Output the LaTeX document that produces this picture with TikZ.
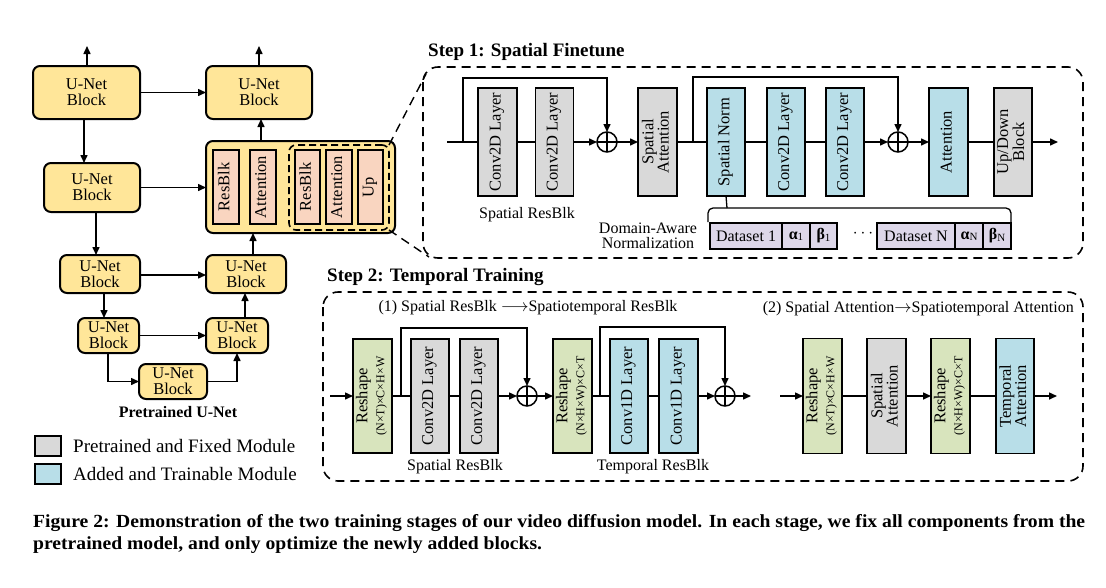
\documentclass[tikz,border=0pt]{standalone}
\usepackage{fontspec}
\setmainfont{Liberation Serif}
\usepackage{graphicx}
\usetikzlibrary{arrows.meta,calc}
\definecolor{cyel}{HTML}{FFE699}
\definecolor{cpnk}{HTML}{F9D5C0}
\definecolor{cgry}{HTML}{D9D9D9}
\definecolor{cblu}{HTML}{B8DEE8}
\definecolor{cgrn}{HTML}{D8E4BD}
\definecolor{clav}{HTML}{DDD7E9}
\newcommand{\rt}[1]{\rotatebox{90}{\begin{tabular}{@{}c@{}}#1\end{tabular}}}
\newcommand{\subsm}[1]{\raisebox{-1.5pt}{\fontsize{11}{11}\selectfont #1}}
\newcommand{\smtx}[1]{{\fontsize{12}{12}\selectfont #1}}
\newsavebox\capA
\newsavebox\capB
\begin{document}
\sbox\capA{\fontsize{18.5}{18.5}\selectfont\bfseries Figure 2: Demonstration of the two training stages of our video diffusion model. In each stage, we fix all components from the}%
\sbox\capB{\fontsize{18.5}{18.5}\selectfont\bfseries pretrained model, and only optimize the newly added blocks.}%
\pgfmathsetmacro\capsc{1052/\the\wd\capA}%
\begin{tikzpicture}[x=1pt,y=-1pt,
  base/.style={draw, inner sep=0pt, outer sep=0pt, align=center, font=\fontsize{16.5}{15}\selectfont},
  sz/.style 2 args={minimum width=#1pt, minimum height=#2pt},
  ublk/.style={base, fill=cyel, rounded corners=7pt, line width=2pt, font=\fontsize{16.5}{16}\selectfont},
  lay/.style={base, line width=1.6pt},
  gry/.style={lay, fill=cgry},
  blu/.style={lay, fill=cblu},
  grn/.style={lay, fill=cgrn},
  pnk/.style={lay, fill=cpnk},
  lav/.style={lay, fill=clav, line width=1.4pt, font=\fontsize{16}{16}\selectfont},
  arr/.style={line width=1.5pt, -{Triangle[length=8pt,width=7pt]}},
  ln/.style={line width=1.5pt},
  plus/.style={circle, draw, line width=1.5pt, minimum size=20pt, inner sep=0pt, outer sep=0pt},
  stepbox/.style={draw, line width=1.6pt, dash pattern=on 9pt off 6pt, rounded corners=15pt},
  lbl/.style={inner sep=0pt, font=\fontsize{16}{15}\selectfont, align=center},
  ttl/.style={inner sep=0pt, font=\fontsize{19}{19}\selectfont\bfseries, anchor=west},
]
\useasboundingbox (0,0) rectangle (1106,587);

% ---------------- Left: pretrained U-Net ----------------
\node[ublk, sz={107}{53}] (u1) at (86.5,92.5) {U-Net\\Block};
\node[ublk, sz={106}{53}] (u2) at (259,92.5) {U-Net\\Block};
\node[ublk, sz={96}{49}] (u3) at (92,187.5) {U-Net\\Block};
\node[ublk, sz={189}{92}] (big) at (300.5,187) {};
\node[ublk, sz={80}{38}] (u4) at (100,274) {U-Net\\Block};
\node[ublk, sz={80}{38}] (u5) at (246,274) {U-Net\\Block};
\node[ublk, sz={61}{35}] (u6) at (108.5,335.5) {U-Net\\Block};
\node[ublk, sz={62}{35}] (u7) at (237,335.5) {U-Net\\Block};
\node[ublk, sz={68}{35}] (u8) at (173,381.5) {U-Net\\Block};

\node[pnk, sz={26}{74}] (rb1) at (226,187) {\rt{ResBlk}};
\node[pnk, sz={26}{74}] (at1) at (263,187) {\rt{Attention}};
\node[draw, line width=1.6pt, dash pattern=on 7pt off 4pt, rounded corners=7pt, sz={100}{85}, inner sep=0pt, outer sep=0pt] (dsh) at (339,187.5) {};
\node[pnk, sz={25}{74}] (rb2) at (307.5,187) {\rt{ResBlk}};
\node[pnk, sz={26}{74}] (at2) at (339,187) {\rt{Attention}};
\node[pnk, sz={25}{74}] (up) at (370.5,187) {\rt{Up}};

\coordinate (o1) at (87,46);
\coordinate (o2) at (259,46);
\draw[arr] (u1.north -| o1) -- (o1);
\draw[arr] (u2.north -| o2) -- (o2);
\draw[arr] (u1.east) -- (u2.west);
\draw[arr] (u1.south -| 84,0) -- (u3.north -| 84,0);
\draw[arr] (u3.east) -- (big.west |- u3.east);
\draw[arr] (u3.south -| 96,0) -- (u4.north -| 96,0);
\draw[arr] (u4.east |- 0,275) -- (u5.west |- 0,275);
\draw[arr] (u5.north -| 253,0) -- (big.south -| 253,0);
\draw[arr] (big.north -| 261,0) -- (u2.south -| 261,0);
\draw[arr] (u4.south -| 104,0) -- (u6.north -| 104,0);
\draw[arr] (u6.east) -- (u7.west);
\draw[arr] (u7.north -| 245,0) -- (u5.south -| 245,0);
\draw[arr] (u6.south -| 108,0) |- (u8.west);
\draw[arr] (u8.east) -| (u7.south -| 237,0);

\node[inner sep=0pt, font=\fontsize{16}{16}\selectfont\bfseries] (pu) at (178,412) {Pretrained U-Net};

% legend
\node[gry, line width=2pt, sz={26}{20}] (lg1) at (48,446) {};
\node[blu, line width=2pt, sz={26}{20}] (lg2) at (48,474) {};
\node[inner sep=0pt, anchor=west, font=\fontsize{19}{19}\selectfont] (lt1) at (73,446) {Pretrained and Fixed Module};
\node[inner sep=0pt, anchor=west, font=\fontsize{19}{19}\selectfont] (lt2) at (73,474) {Added and Trainable Module};

% ---------------- Step 1 ----------------
\node[ttl] (t1) at (428,52) {Step 1: Spatial Finetune};
\draw[stepbox] (423,67) rectangle (1083,258);
\coordinate (s1tl) at (426,74);
\coordinate (s1bl) at (429,257);
\draw[line width=1.4pt, dash pattern=on 9pt off 6pt] (dsh.north east) -- (s1tl);
\draw[line width=1.4pt, dash pattern=on 9pt off 6pt] (dsh.south east) -- (s1bl);

\node[gry, sz={39}{108}] (c1) at (497.5,142) {\rt{Conv2D Layer}};
\node[gry, sz={38}{108}] (c2) at (554.5,142) {\rt{Conv2D Layer}};
\node[plus] (p1) at (607,142) {};
\node[gry, sz={39}{108}] (sa) at (657.5,142) {\rt{Spatial\\Attention}};
\node[blu, sz={38}{108}] (sn) at (726,142) {\rt{Spatial Norm}};
\node[blu, sz={38}{108}] (c3) at (786,142) {\rt{Conv2D Layer}};
\node[blu, sz={38}{108}] (c4) at (845,142) {\rt{Conv2D Layer}};
\node[plus] (p2) at (898,142) {};
\node[blu, sz={39}{108}] (att) at (948.5,142) {\rt{Attention}};
\node[gry, sz={38}{108}] (ud) at (1013,142) {\rt{Up/Down\\Block}};
\draw[ln] (p1.north) -- (p1.south) (p1.west) -- (p1.east);
\draw[ln] (p2.north) -- (p2.south) (p2.west) -- (p2.east);

\coordinate (in1) at (447,142);
\coordinate (k1) at (463,142);
\coordinate (k2) at (693,142);
\coordinate (out1) at (1058,142);
\draw[ln] (in1) -- (c1.west);
\draw[ln] (c1.east) -- (c2.west);
\draw[arr] (c2.east) -- (p1.west);
\draw[arr] (p1.east) -- (sa.west);
\draw[ln] (sa.east) -- (sn.west);
\draw[ln] (sn.east) -- (c3.west);
\draw[ln] (c3.east) -- (c4.west);
\draw[arr] (c4.east) -- (p2.west);
\draw[arr] (p2.east) -- (att.west);
\draw[ln] (att.east) -- (ud.west);
\draw[arr] (ud.east) -- (out1);
\draw[arr] (k1) -- ++(0,-64) -| (p1.north);
\draw[arr] (k2) -- ++(0,-65) -| (p2.north);

\node[lbl] (srb) at (527,215) {Spatial ResBlk};
\node[lbl] (dan) at (648,236) {Domain-Aware\\Normalization};

\node[lav, sz={72}{26}] (d1) at (746,236) {Dataset 1};
\node[lav, sz={28}{26}] (a1) at (796,236) {\textbf{α}\subsm{1}};
\node[lav, sz={27}{26}] (b1) at (823.5,236) {\textbf{β}\subsm{1}};
\node[inner sep=0pt, font=\fontsize{16}{16}\selectfont] (dots) at (863,234) {$\cdots$};
\node[lav, sz={78}{26}] (dN) at (916,236) {Dataset N};
\node[lav, sz={28}{26}] (aN) at (969,236) {\textbf{α}\subsm{N}};
\node[lav, sz={28}{26}] (bN) at (997,236) {\textbf{β}\subsm{N}};
\coordinate (br) at (727,208);
\draw[line width=1.3pt] (sn.south) -- (br);
\draw[line width=1.3pt, rounded corners=5pt] ($(d1.north west)+(-2,-1)$) -- (708,208) -- (1011,208) -- ($(bN.north east)+(0,-1)$);

% ---------------- Step 2 ----------------
\node[ttl] (t2) at (327,277) {Step 2: Temporal Training};
\draw[stepbox] (323,292) rectangle (1083,481);
\node[lbl] (h1) at (528,308) {(1) Spatial ResBlk $\longrightarrow$Spatiotemporal ResBlk};
\node[lbl, anchor=east] (h2) at (1074,309) {(2) Spatial Attention$\rightarrow$Spatiotemporal Attention};

\node[grn, sz={39}{114}] (r1) at (372.5,396) {\rt{Reshape\\[2pt]\smtx{(N×T)×C×H×W}}};
\node[gry, sz={38}{114}] (c5) at (430,396) {\rt{Conv2D Layer}};
\node[gry, sz={38}{114}] (c6) at (479,396) {\rt{Conv2D Layer}};
\node[plus] (p3) at (527,396) {};
\node[grn, sz={39}{114}] (r2) at (572.5,396) {\rt{Reshape\\[2pt]\smtx{(N×H×W)×C×T}}};
\node[blu, sz={38}{114}] (c7) at (629,396) {\rt{Conv1D Layer}};
\node[blu, sz={39}{114}] (c8) at (678.5,396) {\rt{Conv1D Layer}};
\node[plus] (p4) at (725,396) {};
\draw[ln] (p3.north) -- (p3.south) (p3.west) -- (p3.east);
\draw[ln] (p4.north) -- (p4.south) (p4.west) -- (p4.east);

\coordinate (in2) at (330,396);
\coordinate (k3) at (401,396);
\coordinate (k4) at (600,396);
\coordinate (out2) at (751,396);
\draw[arr] (in2) -- (r1.west);
\draw[ln] (r1.east) -- (c5.west);
\draw[ln] (c5.east) -- (c6.west);
\draw[arr] (c6.east) -- (p3.west);
\draw[arr] (p3.east) -- (r2.west);
\draw[ln] (r2.east) -- (c7.west);
\draw[ln] (c7.east) -- (c8.west);
\draw[arr] (c8.east) -- (p4.west);
\draw[arr] (p4.east) -- (out2);
\draw[arr] (k3) -- ++(0,-68) -| (p3.north);
\draw[arr] (k4) -- ++(0,-69) -| (p4.north);

\node[lbl] (srb2) at (455,467) {Spatial ResBlk};
\node[lbl] (trb) at (653,467) {Temporal ResBlk};

\node[grn, sz={39}{115}] (r3) at (822.5,396) {\rt{Reshape\\[2pt]\smtx{(N×T)×C×H×W}}};
\node[gry, sz={39}{115}] (sa2) at (886.5,396) {\rt{Spatial\\Attention}};
\node[grn, sz={39}{115}] (r4) at (950.5,396) {\rt{Reshape\\[2pt]\smtx{(N×H×W)×C×T}}};
\node[blu, sz={38}{115}] (ta) at (1015,396) {\rt{Temporal\\Attention}};
\coordinate (in3) at (780,396);
\coordinate (out3) at (1057,396);
\draw[arr] (in3) -- (r3.west);
\draw[ln] (r3.east) -- (sa2.west);
\draw[arr] (sa2.east) -- (r4.west);
\draw[ln] (r4.east) -- (ta.west);
\draw[arr] (ta.east) -- (out3);

% ---------------- Caption ----------------
\node[inner sep=0pt, anchor=base west] (cap1) at (33,527) {\scalebox{\capsc}[1]{\usebox\capA}};
\node[inner sep=0pt, anchor=base west] (cap2) at (33,549) {\scalebox{\capsc}[1]{\usebox\capB}};
\end{tikzpicture}
\end{document}
